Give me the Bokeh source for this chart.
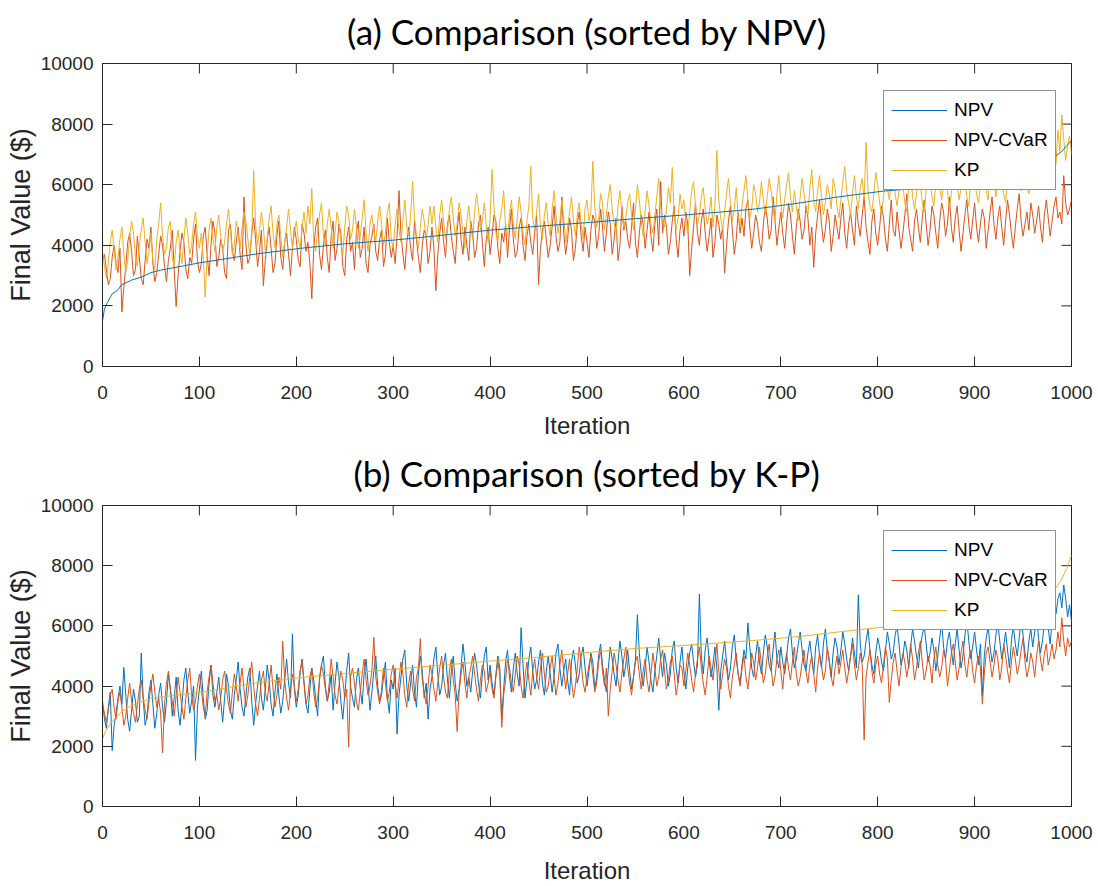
from bokeh.plotting import figure
from bokeh.models import Range1d, LinearAxis, FixedTicker, Legend, LegendItem, Title
from bokeh.layouts import column
from bokeh.embed import file_html
from bokeh.resources import INLINE

# iterations at which the noisy series are sampled (every 2nd run)
ITER = list(range(0, 1001, 2))

# ---------------- panel (a): sorted by NPV ----------------
NPV_A_X = [0, 2, 5, 10, 15, 20, 30, 40, 50, 60, 80, 100, 120, 142, 160, 180, 204, 250, 300, 338,
           400, 450, 505, 550, 600, 650, 674, 720, 760, 806, 850, 900, 940, 960, 978, 990, 1000]
NPV_A_Y = [1500, 1900, 2100, 2400, 2500, 2700, 2850, 2950, 3100, 3180, 3300, 3420, 3520, 3630, 3720,
           3800, 3900, 4050, 4170, 4290, 4500, 4630, 4760, 4880, 5000, 5130, 5200, 5400, 5600, 5790,
           5900, 6050, 6250, 6450, 6800, 7100, 7460]

CVAR_A = [
    3500, 3700, 3200, 2700, 2900, 3600, 4000, 3400, 3100, 3900,
    1800, 2600, 3300, 4100, 4400, 3800, 3000, 3200, 4300, 3600,
    2900, 2700, 3500, 4200, 3900, 4600, 3400, 2800, 3100, 3700,
    4300, 4000, 3300, 2800, 3500, 3900, 4500, 3200, 1980, 3000,
    3800, 4400, 4100, 3200, 2900, 3600, 3400, 4200, 4700, 3500,
    3100, 3400, 4300, 4600, 3700, 3000, 4000, 4800, 4400, 3300,
    3600, 4200, 3900, 3100, 2900, 4500, 4700, 3800, 3500, 4100,
    4600, 3700, 3200, 5590, 4000, 3400, 3600, 4400, 4900, 4200,
    3300, 3800, 4500, 2670, 3500, 4200, 4600, 3900, 3100, 3400,
    4300, 4800, 3600, 3200, 4100, 4400, 3700, 3000, 3900, 4600,
    4200, 3500, 3300, 4700, 4400, 3800, 4100, 3400, 2240, 3900,
    4600, 4900, 3700, 3200, 4000, 4500, 3600, 3100, 4300, 4800,
    3500, 3900, 4700, 4400, 3300, 3000, 4200, 4600, 3800, 4100,
    3200, 4400, 4800, 3600, 3900, 4600, 3400, 3100, 4000, 4300,
    4700, 3800, 3500, 4200, 4500, 3300, 3700, 4900, 4100, 3600,
    4000, 3400, 4300, 5800, 4400, 3700, 3200, 4100, 4600, 3900,
    3500, 4800, 4200, 3600, 3100, 4000, 4500, 4300, 3400, 3800,
    4600, 3900, 2500, 3700, 4400, 4900, 4100, 3600, 4700, 5000,
    4300, 3800, 3400, 4500, 5100, 4200, 3700, 4600, 4000, 3500,
    4800, 4400, 3600, 3900, 4700, 5000, 4100, 3300, 4200, 4600,
    3700, 4300, 5000, 4800, 3900, 3400, 4400, 4100, 4700, 3600,
    4500, 5200, 4200, 3600, 3800, 4600, 4900, 4000, 3500, 4300,
    4700, 4100, 3700, 4400, 5000, 2700, 3900, 4500, 4800, 4200,
    3600, 4000, 4600, 5300, 4300, 3800, 4100, 5600, 4400, 3700,
    4200, 4900, 4500, 3500, 3900, 4700, 5100, 4300, 3800, 4600,
    4100, 3600, 4500, 5000, 4800, 3900, 4300, 5200, 4600, 3800,
    4400, 5100, 4700, 3700, 4200, 4900, 3500, 4000, 5300, 4500,
    4800, 4200, 3900, 4600, 5400, 4100, 3600, 4400, 5000, 4700,
    3900, 4500, 5100, 4300, 3800, 4700, 5200, 4000, 6100, 4400,
    5000, 4600, 3700, 4100, 4800, 5300, 4200, 3600, 4500, 4900,
    4300, 5100, 4700, 3000, 3900, 4600, 5400, 4400, 4000, 4800,
    5200, 4400, 3800, 4300, 4900, 3600, 4100, 5000, 4700, 4200,
    4600, 3080, 4000, 4800, 5300, 4500, 3700, 4200, 5100, 4400,
    4900, 4300, 5200, 5500, 4600, 3900, 4400, 5000, 4700, 4100,
    3800, 4700, 5300, 4900, 4200, 4500, 5600, 4800, 4000, 4600,
    5100, 4400, 3900, 4700, 5400, 5000, 4300, 3700, 4600, 5200,
    4800, 4200, 4500, 5300, 4900, 4000, 4600, 3270, 4400, 5000,
    5500, 4700, 4100, 4500, 5200, 4800, 3800, 4300, 5000, 4600,
    4200, 4900, 5400, 4400, 3900, 4700, 5100, 4500, 4000, 5300,
    4700, 4300, 5000, 5600, 4600, 4100, 3700, 4800, 5200, 4400,
    4000, 4600, 5300, 4900, 4200, 3800, 4700, 5500, 4500, 4300,
    5100, 4500, 3900, 4400, 5000, 5700, 4600, 4200, 3800, 4800,
    5200, 4600, 4100, 4900, 5500, 4700, 4000, 4500, 5300, 5000,
    4400, 3900, 4800, 5400, 5100, 4300, 4700, 5600, 4600, 4100,
    4900, 5300, 4500, 3800, 4400, 5000, 5500, 4700, 4200, 4800,
    5400, 4600, 4100, 4700, 5200, 4900, 3900, 4500, 5100, 5600,
    4700, 4200, 4900, 5300, 4600, 4000, 4800, 5500, 5000, 4400,
    3900, 4600, 5200, 5700, 4800, 4300, 4700, 5100, 4500, 5400,
    5000, 4400, 4800, 5300, 4600, 4100, 5000, 5500, 4900, 4300,
    4800, 5300, 5600, 4900, 5100, 4700, 6300, 5400, 5000, 5200,
    5500]

KP_A = [
    3800, 3300, 2900, 3400, 4100, 4500, 3900, 3200, 3600, 4200,
    4600, 3700, 3100, 3500, 4300, 4800, 4400, 3600, 3300, 4000,
    4500, 4900, 4100, 3400, 3800, 4400, 3500, 3200, 4200, 4700,
    5400, 4300, 3700, 3900, 4600, 4800, 3600, 3300, 4100, 4500,
    3800, 3400, 4200, 4900, 4400, 3700, 4000, 4700, 5100, 4300,
    3900, 4400, 3600, 2290, 3700, 4500, 4900, 4200, 3800, 4600,
    5000, 4300, 3800, 4100, 4700, 5200, 4500, 3700, 4000, 4800,
    4400, 3900, 4600, 5100, 4800, 4200, 3700, 4300, 6470, 4700,
    4000, 4500, 5100, 4600, 3800, 4200, 4900, 5300, 4400, 3900,
    4700, 5000, 4300, 3600, 4100, 4600, 5200, 4500, 3900, 4400,
    4800, 4200, 3900, 4600, 5100, 4400, 5300, 4700, 5870, 4100,
    3800, 4500, 5000, 5400, 4300, 4000, 4700, 5200, 4600, 3900,
    4400, 5100, 4800, 4100, 3700, 4600, 5300, 5000, 4200, 4500,
    5200, 4600, 3900, 4300, 4900, 5500, 4400, 3800, 4700, 5000,
    4500, 4100, 4800, 5300, 4700, 4000, 4400, 5100, 5400, 4200,
    3900, 4700, 5200, 4500, 4100, 4800, 5500, 4600, 4300, 5000,
    6100, 4900, 4300, 3900, 4600, 5200, 4800, 4200, 4700, 5300,
    4700, 5300, 4600, 4100, 5000, 5500, 4800, 4200, 4500, 5200,
    5600, 4900, 4300, 4700, 5400, 5000, 4400, 3900, 4800, 5300,
    4600, 4200, 5100, 5700, 5200, 4500, 4800, 5400, 4700, 4100,
    4900, 6500, 5300, 4400, 4100, 4800, 5200, 5800, 4600, 4300,
    5000, 5500, 4700, 4200, 4900, 5600, 5100, 4400, 4000, 4800,
    5300, 6600, 4900, 4500, 5100, 5700, 4600, 4200, 5000, 5400,
    4700, 4300, 5200, 5800, 5000, 4400, 4800, 5500, 4900, 4100,
    4600, 5100, 5600, 4800, 4300, 5000, 5400, 4700, 4200, 5200,
    5500, 4800, 5100, 6780, 5300, 4600, 4900, 5700, 5400, 4500,
    5000, 5600, 6000, 5200, 4700, 4400, 5300, 5800, 5100, 4600,
    4900, 5400, 5700, 5000, 4500, 5200, 6000, 5500, 4800, 4300,
    5100, 5800, 5300, 4700, 4400, 5000, 5600, 6200, 5300, 4800,
    4600, 5200, 5900, 5400, 6570, 5000, 4500, 4900, 5700, 5200,
    5500, 4800, 4400, 5100, 5800, 6100, 5300, 4700, 5000, 5600,
    5900, 5200, 4700, 5000, 5600, 4600, 5300, 7130, 5500, 4900,
    4500, 5100, 5700, 6200, 5400, 4800, 5200, 5900, 5000, 4600,
    5300, 5800, 6300, 5500, 4900, 5200, 6000, 5700, 5100, 5400,
    6100, 5500, 5000, 5600, 6200, 5800, 5200, 4800, 5700, 6300,
    5400, 4900, 5500, 6000, 6400, 5600, 5100, 5800, 5300, 4800,
    5600, 6200, 5700, 5200, 5000, 5900, 6500, 5500, 5100, 5800,
    6300, 5600, 5000, 5400, 6000, 5700, 5200, 6200, 5900, 5300,
    4900, 5500, 6100, 6600, 5800, 5400, 5000, 5700, 6300, 5600,
    5200, 5900, 6200, 5500, 7400, 5800, 5300, 5100, 5700, 6400,
    6000, 5400, 5000, 5600, 6300, 5900, 5500, 6100, 6700, 5700,
    5300, 5800, 6400, 6000, 5400, 5100, 5900, 6500, 5600, 5200,
    5700, 6300, 6000, 5400, 5100, 5800, 6600, 6200, 5600, 5300,
    6100, 6700, 5900, 5500, 6000, 6400, 5800, 5200, 5700, 6300,
    6600, 6000, 5500, 5900, 6500, 6200, 5600, 5300, 6100, 6800,
    6200, 5700, 5400, 6000, 6600, 6300, 5800, 5500, 6400, 6900,
    6000, 5600, 6300, 6700, 6100, 5700, 5400, 6200, 6800, 6400,
    5900, 6500, 6900, 6200, 5800, 6300, 6600, 6000, 5700, 6400,
    6800, 6200, 6500, 7000, 6400, 6000, 6700, 7100, 6500, 6300,
    6900, 7200, 6700, 7800, 7100, 8300, 7500, 6800, 7300, 7600,
    7000]

# ---------------- panel (b): sorted by K-P ----------------
KP_B_X = [0, 3, 8, 15, 20, 29, 40, 50, 75, 101, 153, 204, 250, 300, 338, 400, 450, 505, 550, 600,
          674, 720, 760, 806, 850, 900, 940, 970, 980, 989, 995, 1000]
KP_B_Y = [2250, 2500, 2740, 3000, 3150, 3340, 3480, 3590, 3700, 3790, 4080, 4280, 4420, 4560, 4660,
          4830, 4960, 5130, 5250, 5350, 5520, 5650, 5800, 5960, 6080, 6220, 6400, 6750, 7080, 7500,
          7900, 8350]

NPV_B = [
    3500, 2900, 2600, 3300, 3800, 1860, 2700, 3100, 3600, 4000,
    3400, 4620, 3700, 2900, 2500, 3200, 3900, 3500, 2800, 3000,
    5100, 3600, 2700, 3000, 3800, 4200, 3400, 2600, 3100, 3700,
    4100, 3300, 2800, 3500, 4400, 3900, 3000, 3600, 4300, 3200,
    2700, 3400, 4200, 4600, 3800, 3100, 3500, 4000, 1530, 3300,
    3900, 4500, 3600, 2900, 3200, 4100, 4700, 3700, 3300, 3800,
    4300, 3500, 2800, 3600, 4400, 4000, 3200, 2900, 3700, 4200,
    4800, 3900, 3300, 3000, 3700, 4300, 4600, 3500, 2700, 3400,
    4000, 4500, 3600, 3200, 3900, 4700, 4200, 3400, 3000, 3800,
    4400, 3700, 3100, 3500, 4200, 4900, 4100, 3600, 5730, 3900,
    3300, 3700, 4500, 4900, 4100, 3400, 3100, 3900, 4600, 4200,
    3600, 3000, 4300, 4700, 5000, 4000, 3500, 3800, 4400, 3200,
    4100, 4800, 4300, 3500, 2900, 3700, 4500, 5100, 4000, 3600,
    3300, 4200, 4600, 3900, 3400, 4400, 4900, 4100, 3200, 3800,
    4500, 5000, 4000, 3500, 3700, 4300, 4800, 3600, 3100, 4200,
    3900, 4600, 2410, 3700, 4300, 4900, 5200, 4000, 3500, 4100,
    4700, 3800, 3300, 4400, 5000, 4500, 3600, 4100, 2900, 3900,
    4300, 4900, 5300, 4400, 3700, 4000, 4700, 5100, 4200, 3600,
    4500, 5000, 4100, 3500, 3900, 4600, 5400, 4800, 4000, 4300,
    3800, 4500, 5100, 4700, 4100, 3600, 4400, 5000, 5300, 4200,
    4700, 4100, 3700, 4400, 5000, 4600, 2900, 3900, 4800, 5200,
    4300, 3800, 4600, 5100, 4400, 4000, 5940, 4700, 3600, 4200,
    4900, 5300, 4500, 3900, 4200, 4800, 5200, 4100, 3700, 4500,
    5000, 4400, 3800, 4300, 5100, 5400, 4600, 4000, 4500, 4900,
    4200, 3700, 4800, 5200, 4700, 4100, 4400, 5000, 5300, 4600,
    4000, 4500, 5100, 4800, 3900, 4300, 5000, 5400, 4700, 4200,
    3800, 4600, 5300, 4900, 4400, 4000, 4800, 5500, 5000, 4300,
    4700, 5200, 4500, 3900, 4300, 4900, 6370, 5100, 4400, 4000,
    4600, 5300, 4800, 4200, 3800, 4500, 5000, 5600, 4900, 4300,
    5100, 4700, 4000, 4400, 5200, 5500, 4600, 4100, 4800, 5300,
    4500, 3900, 4600, 5100, 5400, 4800, 4300, 4700, 7060, 5000,
    4400, 5200, 5600, 4900, 4300, 4700, 5300, 4600, 3200, 4500,
    5000, 5500, 4800, 4200, 4600, 5300, 5700, 4900, 4400, 4100,
    4700, 5200, 4900, 6100, 5300, 4600, 4300, 5000, 5500, 4800,
    4400, 5100, 5700, 5300, 4700, 4500, 5200, 5800, 4900, 4600,
    5300, 4800, 4400, 5000, 5600, 5900, 5100, 4600, 4900, 5400,
    5800, 5200, 4700, 4500, 5100, 5500, 4900, 4400, 5300, 5700,
    5000, 4600, 5400, 5900, 5200, 4800, 4300, 5100, 5600, 5300,
    4700, 5200, 5800, 5400, 4900, 4500, 5000, 5600, 5100, 4600,
    7030, 5400, 4800, 5000, 5500, 5900, 5200, 4700, 4400, 5100,
    5600, 5300, 4800, 4500, 5200, 5800, 5400, 4900, 5100, 5700,
    6000, 5400, 4700, 5000, 5500, 5200, 4600, 5300, 5900, 5500,
    5000, 4600, 5300, 5700, 6000, 5400, 4800, 5100, 5600, 5200,
    4500, 5000, 5600, 6100, 5300, 4900, 5500, 5800, 5200, 4700,
    5400, 5900, 5200, 4600, 5000, 5700, 6200, 5500, 4900, 5300,
    5800, 5200, 4700, 5400, 3670, 5000, 5600, 6000, 5300, 4800,
    5100, 5700, 6100, 5500, 4900, 5300, 5800, 5200, 4600, 5500,
    6000, 5400, 5000, 5600, 6200, 5700, 5100, 4800, 5500, 5900,
    5300, 5800, 6300, 5600, 5100, 5500, 6100, 6500, 5900, 5400,
    6200, 6800, 6400, 6900, 7100, 6600, 7360, 6900, 6300, 6700,
    6150]

CVAR_B = [
    3400, 3100, 2800, 3200, 3700, 3900, 3300, 2900, 3500, 3800,
    3300, 2700, 3000, 3600, 4100, 3500, 3100, 2800, 3400, 3900,
    4200, 3600, 3200, 2900, 3500, 4000, 4400, 3800, 3300, 3600,
    3100, 1780, 3400, 4100, 4500, 3900, 3500, 3000, 3700, 4300,
    3800, 3300, 2900, 3600, 4200, 4600, 3700, 3200, 3500, 4000,
    4400, 3900, 3300, 3000, 3800, 4300, 4700, 4100, 3500, 3700,
    3200, 3600, 4200, 4500, 3900, 3400, 3100, 3800, 4400, 4000,
    3500, 4100, 4600, 3900, 3300, 3700, 4300, 4800, 4000, 3400,
    3000, 3600, 4200, 4500, 3800, 3500, 4100, 4700, 3900, 3300,
    3700, 4300, 3900, 5490, 4200, 3600, 3200, 3800, 4400, 4000,
    3500, 3900, 4500, 4800, 4100, 3400, 3700, 4300, 4600, 3800,
    3300, 3600, 4200, 4700, 4400, 3900, 3500, 4100, 4900, 4300,
    3700, 3400, 4000, 4500, 4200, 3600, 3900, 1970, 4300, 4600,
    4100, 3500, 3200, 3800, 4400, 4900, 4200, 3700, 4000, 4500,
    5620, 4300, 3800, 3400, 3900, 4600, 4100, 3500, 3800, 4400,
    4700, 4000, 3600, 4200, 4800, 4400, 3700, 3300, 4100, 4500,
    3900, 3500, 4300, 4600, 5580, 4200, 3800, 3400, 4000, 4700,
    4400, 3900, 3500, 4100, 4600, 5000, 4300, 3800, 3600, 4500,
    4900, 4200, 3700, 2490, 3800, 4400, 4800, 4100, 3600, 4300,
    4600, 5000, 4400, 3900, 3500, 4200, 4700, 4500, 3800, 4100,
    4500, 3900, 3600, 4300, 4800, 4400, 2630, 3700, 4200, 4900,
    4600, 4100, 3800, 4400, 5000, 4700, 4000, 3600, 4300, 4800,
    4200, 3700, 4500, 4900, 4300, 3900, 4600, 5100, 4400, 3800,
    4000, 4600, 5000, 4300, 3700, 4100, 4700, 5200, 4500, 3900,
    4400, 4900, 4200, 3600, 4000, 4600, 5300, 4800, 4100, 3800,
    4300, 4700, 5000, 4400, 3800, 4100, 4800, 5200, 4500, 4000,
    4600, 3010, 3900, 4500, 5100, 4700, 4200, 3800, 4400, 4900,
    5300, 4600, 4100, 3700, 4300, 4800, 5000, 4400, 3900, 4500,
    4900, 4200, 3800, 4400, 5100, 4600, 4000, 4300, 4900, 5200,
    4500, 3900, 4200, 4800, 5000, 4400, 3700, 4100, 4700, 4600,
    4000, 4500, 5100, 4700, 4200, 3800, 4400, 4900, 5300, 4600,
    4100, 3700, 4300, 5000, 4600, 4200, 4800, 5400, 4500, 3900,
    4400, 4900, 4600, 4000, 3600, 4300, 4700, 5100, 4400, 4000,
    4600, 5000, 4300, 3900, 4500, 5100, 4800, 4200, 4600, 5300,
    4700, 4100, 4400, 5000, 5400, 4600, 4000, 4300, 4900, 5200,
    4500, 3900, 4700, 5100, 4600, 4200, 4800, 5300, 4400, 4000,
    4300, 4800, 5200, 4500, 4100, 4700, 5000, 4400, 3800, 4600,
    5100, 4700, 4200, 4500, 5300, 4900, 4300, 4000, 4600, 5000,
    4400, 4800, 5200, 4600, 4100, 4500, 5000, 5400, 4700, 4200,
    4600, 5100, 4700, 2210, 4300, 4800, 5200, 4500, 4100, 4700,
    5000, 4400, 4100, 4700, 5300, 4900, 3460, 4200, 4800, 5100,
    4500, 4000, 4600, 5100, 4800, 4300, 4700, 5400, 4900, 4200,
    4600, 5100, 5500, 4800, 4200, 4500, 5000, 4700, 4100, 4900,
    5300, 4700, 4300, 4600, 5200, 4900, 4000, 4500, 5100, 5400,
    4800, 4200, 4600, 5100, 5500, 4700, 4300, 4900, 5200, 4500,
    4100, 4700, 5000, 4600, 3400, 4400, 5100, 5300, 4800, 4300,
    4700, 5200, 4900, 4200, 4600, 5400, 5000, 4500, 4100, 4800,
    5300, 4900, 4400, 4700, 5200, 5600, 4800, 4300, 4600, 5100,
    4800, 4300, 5000, 5500, 4900, 4500, 5100, 5400, 4700, 5000,
    5400, 4900, 5200, 5800, 5300, 6270, 5500, 5000, 5600, 5300,
    5500]

for _s in (CVAR_A, KP_A, NPV_B, CVAR_B):
    assert len(_s) == len(ITER), len(_s)

X_TICKS = [0, 100, 200, 300, 400, 500, 600, 700, 800, 900, 1000]
Y_TICKS = [0, 2000, 4000, 6000, 8000, 10000]
LEGEND_LABELS = ["NPV", "NPV-CVaR", "KP"]
TITLES = ["(a) Comparison (sorted by NPV)", "(b) Comparison (sorted by K-P)"]

BLUE = "#0072BD"
ORANGE = "#D95319"
YELLOW = "#EDB120"
INK = "#262626"
NUM_FONT = "Liberation Sans"
TITLE_FONT = "Lato"

FRAME_W = 969   # px
FRAME_H = 303   # px
TICK_PX = 10


def style_axis(ax):
    ax.axis_line_color = INK
    ax.axis_line_width = 1
    ax.major_tick_line_color = INK
    ax.major_tick_in = TICK_PX
    ax.major_tick_out = 0
    ax.minor_tick_line_color = None
    ax.major_label_text_color = INK
    ax.major_label_text_font = NUM_FONT
    ax.major_label_text_font_size = "19px"
    ax.axis_label_text_font = NUM_FONT
    ax.axis_label_text_font_style = "normal"
    ax.axis_label_text_color = INK


def make_panel(title, height, top, bottom, xlabel_standoff, lines):
    p = figure(width=1098, height=height, x_range=Range1d(0, 1000), y_range=Range1d(0, 10000),
               output_backend="svg", toolbar_location=None, x_axis_type=None, y_axis_type=None,
               min_border_left=102, min_border_right=27, min_border_top=top, min_border_bottom=bottom)
    p.outline_line_color = INK
    p.outline_line_width = 1
    p.background_fill_color = "white"

    xb = LinearAxis(ticker=FixedTicker(ticks=X_TICKS), major_label_standoff=19,
                    axis_label="Iteration", axis_label_standoff=xlabel_standoff)
    style_axis(xb)
    xb.axis_label_text_font_size = "24px"
    p.add_layout(xb, "below")
    yl = LinearAxis(ticker=FixedTicker(ticks=Y_TICKS), major_label_standoff=9,
                    axis_label="Final Value ($)", axis_label_standoff=2)
    style_axis(yl)
    yl.axis_label_text_font_size = "27px"
    p.add_layout(yl, "left")

    # mirrored inward ticks on the top and right edges (box style)
    dy = TICK_PX / FRAME_H * (p.y_range.end - p.y_range.start)
    dx = TICK_PX / FRAME_W * (p.x_range.end - p.x_range.start)
    p.segment(x0=X_TICKS, x1=X_TICKS, y0=[p.y_range.end] * len(X_TICKS),
              y1=[p.y_range.end - dy] * len(X_TICKS), line_color=INK, line_width=1)
    p.segment(x0=[p.x_range.end] * len(Y_TICKS), x1=[p.x_range.end - dx] * len(Y_TICKS),
              y0=Y_TICKS, y1=Y_TICKS, line_color=INK, line_width=1)

    p.add_layout(Title(text=title, align="center", vertical_align="top", text_font=TITLE_FONT,
                       text_font_size="35px", text_font_style="normal", text_color="black",
                       standoff=19), "above")

    rends = {}
    for name, xs, ys, col in lines:
        rends[name] = p.line(xs, ys, line_color=col, line_width=1)

    items = [LegendItem(label=lab, renderers=[rends[lab]]) for lab in LEGEND_LABELS]
    leg = Legend(items=items, location=(781, 176), margin=0, padding=7, spacing=6,
                 label_height=24, glyph_height=24, glyph_width=56, label_standoff=7,
                 label_text_font=NUM_FONT, label_text_font_size="19px", label_text_color="black",
                 border_line_color=INK, border_line_width=1, background_fill_color="white",
                 background_fill_alpha=1.0)
    p.add_layout(leg)
    return p


pa = make_panel(TITLES[0], 442, 63, 76, 10,
                [("NPV-CVaR", ITER, CVAR_A, ORANGE),
                 ("KP", ITER, KP_A, YELLOW),
                 ("NPV", NPV_A_X, NPV_A_Y, BLUE)])
pb = make_panel(TITLES[1], 444, 63, 78, 15,
                [("NPV", ITER, NPV_B, BLUE),
                 ("NPV-CVaR", ITER, CVAR_B, ORANGE),
                 ("KP", KP_B_X, KP_B_Y, YELLOW)])

layout = column(pa, pb, spacing=0)
open("out.html", "w").write(file_html(layout, INLINE))
